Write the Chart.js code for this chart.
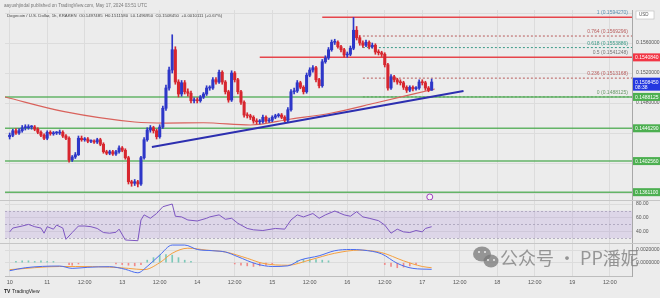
<!DOCTYPE html>
<html>
<head>
<meta charset="utf-8">
<script src="https://cdn.jsdelivr.net/npm/chart.js@4.4.0/dist/chart.umd.min.js"></script>
<style>
  html, body { margin: 0; padding: 0; background: #ececec; }
  #wrap { position: relative; width: 660px; height: 298px; }
</style>
</head>
<body>
<div id="wrap"><canvas id="dogeChart" width="660" height="298"></canvas></div>
<script>
// DOGE/USD 1h candles (index 0 = May 11 12:00, last = May 17 03:00)
const firstOpen = 0.1435;
const closes = [
  0.1437, 0.1443, 0.1440, 0.1443, 0.1447, 0.1447, 0.1448, 0.1448, 0.1445, 0.1441,
  0.1437, 0.1433, 0.1441, 0.1439, 0.1440, 0.1440, 0.1441, 0.1436, 0.1433, 0.1404,
  0.1408, 0.1411, 0.1433, 0.1431, 0.1432, 0.1429, 0.1429, 0.1428, 0.1431, 0.1425,
  0.1415, 0.1413, 0.1415, 0.1412, 0.1415, 0.1420, 0.1417, 0.1407, 0.1375, 0.1373,
  0.1375, 0.1372, 0.1407, 0.1431, 0.1444, 0.1447, 0.1443, 0.1435, 0.1448, 0.1473,
  0.1500, 0.1524, 0.1551, 0.1508, 0.1492, 0.1507, 0.1495, 0.1493, 0.1483, 0.1484,
  0.1483, 0.1488, 0.1492, 0.1500, 0.1500, 0.1511, 0.1508, 0.1521, 0.1508, 0.1495,
  0.1484, 0.1520, 0.1511, 0.1495, 0.1481, 0.1464, 0.1463, 0.1461, 0.1456, 0.1455,
  0.1455, 0.1461, 0.1456, 0.1457, 0.1461, 0.1463, 0.1464, 0.1461, 0.1457, 0.1471,
  0.1495, 0.1496, 0.1507, 0.1501, 0.1495, 0.1517, 0.1524, 0.1527, 0.1511, 0.1503,
  0.1535, 0.1540, 0.1551, 0.1561, 0.1561, 0.1555, 0.1551, 0.1544, 0.1545, 0.1553,
  0.1577, 0.1567, 0.1560, 0.1557, 0.1561, 0.1555, 0.1557, 0.1548, 0.1547, 0.1545,
  0.1531, 0.1500, 0.1515, 0.1511, 0.1508, 0.1507, 0.1501, 0.1497, 0.1501, 0.1499,
  0.1500, 0.1508, 0.1507, 0.1500, 0.1497, 0.1508
];
const highs = [
  0.1440, 0.1445, 0.1446, 0.1446, 0.1450, 0.1451, 0.1451, 0.1450, 0.1450, 0.1447,
  0.1443, 0.1439, 0.1443, 0.1443, 0.1442, 0.1442, 0.1444, 0.1443, 0.1438, 0.1435,
  0.1410, 0.1414, 0.1436, 0.1436, 0.1434, 0.1434, 0.1431, 0.1431, 0.1433, 0.1433,
  0.1427, 0.1417, 0.1417, 0.1417, 0.1417, 0.1423, 0.1422, 0.1419, 0.1409, 0.1377,
  0.1378, 0.1377, 0.1409, 0.1434, 0.1447, 0.1450, 0.1449, 0.1445, 0.1451, 0.1476,
  0.1504, 0.1528, 0.1571, 0.1555, 0.1511, 0.1510, 0.1510, 0.1499, 0.1496, 0.1487,
  0.1487, 0.1490, 0.1494, 0.1503, 0.1503, 0.1514, 0.1514, 0.1524, 0.1523, 0.1510,
  0.1497, 0.1523, 0.1522, 0.1513, 0.1497, 0.1483, 0.1467, 0.1465, 0.1463, 0.1459,
  0.1458, 0.1464, 0.1463, 0.1460, 0.1463, 0.1465, 0.1466, 0.1466, 0.1463, 0.1474,
  0.1498, 0.1500, 0.1510, 0.1509, 0.1503, 0.1520, 0.1527, 0.1530, 0.1529, 0.1513,
  0.1538, 0.1543, 0.1554, 0.1564, 0.1565, 0.1563, 0.1557, 0.1553, 0.1548, 0.1556,
  0.1594, 0.1582, 0.1570, 0.1563, 0.1564, 0.1563, 0.1560, 0.1559, 0.1551, 0.1549,
  0.1547, 0.1533, 0.1518, 0.1517, 0.1513, 0.1511, 0.1509, 0.1503, 0.1503, 0.1503,
  0.1502, 0.1511, 0.1511, 0.1509, 0.1502, 0.1512
];
const lows = [
  0.1432, 0.1435, 0.1438, 0.1438, 0.1441, 0.1444, 0.1445, 0.1445, 0.1443, 0.1439,
  0.1435, 0.1431, 0.1431, 0.1437, 0.1437, 0.1438, 0.1438, 0.1434, 0.1431, 0.1401,
  0.1402, 0.1406, 0.1410, 0.1429, 0.1429, 0.1427, 0.1427, 0.1426, 0.1426, 0.1423,
  0.1413, 0.1411, 0.1411, 0.1410, 0.1410, 0.1413, 0.1415, 0.1405, 0.1372, 0.1369,
  0.1370, 0.1368, 0.1370, 0.1405, 0.1429, 0.1441, 0.1440, 0.1432, 0.1433, 0.1446,
  0.1470, 0.1497, 0.1520, 0.1505, 0.1488, 0.1489, 0.1492, 0.1489, 0.1480, 0.1480,
  0.1480, 0.1481, 0.1486, 0.1490, 0.1497, 0.1498, 0.1505, 0.1506, 0.1505, 0.1492,
  0.1481, 0.1482, 0.1508, 0.1492, 0.1478, 0.1461, 0.1460, 0.1458, 0.1453, 0.1452,
  0.1452, 0.1453, 0.1454, 0.1454, 0.1455, 0.1459, 0.1461, 0.1459, 0.1455, 0.1455,
  0.1469, 0.1492, 0.1494, 0.1499, 0.1492, 0.1493, 0.1515, 0.1521, 0.1508, 0.1500,
  0.1501, 0.1533, 0.1538, 0.1549, 0.1558, 0.1553, 0.1548, 0.1541, 0.1541, 0.1543,
  0.1551, 0.1564, 0.1557, 0.1554, 0.1555, 0.1552, 0.1553, 0.1545, 0.1544, 0.1542,
  0.1528, 0.1497, 0.1498, 0.1508, 0.1505, 0.1504, 0.1498, 0.1494, 0.1495, 0.1496,
  0.1497, 0.1498, 0.1504, 0.1497, 0.1495, 0.1497
];
const opens = closes.map((c, i) => (i === 0 ? firstOpen : closes[i - 1]));

// red moving average, blue trend line
const maIdx = [-1.5, 17.5, 40, 50, 62, 77, 90, 103, 117, 136];
const maVal = [0.1488, 0.14684, 0.14547, 0.14533, 0.14537, 0.14507, 0.14587, 0.14667, 0.1480, 0.14987];
const trendIdx = [45.5, 145.2];
const trendVal = [0.14213, 0.1496];

// horizontal levels
const supportLevels = [0.1488125, 0.1446290, 0.1402560, 0.1361100];
const resistLevels = [0.1594270, 0.1540840];
const resistStart = [100, 80];
const fibNames = ['1', '0.764', '0.618', '0.5', '0.236', '0'];
const fibPrices = [0.1594270, 0.1569296, 0.1553886, 0.1541248, 0.1513168, 0.1488125];
const fibColors = ['#5a8fb0', '#b85c5c', '#3a9a86', '#777777', '#b85c5c', '#6a9a6a'];
const fibStart = 113;

// price axis
const priceTicks = [0.136, 0.138, 0.140, 0.142, 0.144, 0.146, 0.148, 0.150, 0.152, 0.154, 0.156, 0.158, 0.160];
const priceTickLbl = ['', '0.1380000', '', '0.1420000', '', '0.1460000', '0.1480000', '', '0.1520000', '', '0.1560000', '0.1580000', ''];
const lastPrice = 0.1508450;
const lastCountdown = '08:38';

// RSI (14)
const rsiIdx = [0, 1, 4, 6, 8, 10, 11, 12, 14, 15, 17, 18, 20, 22, 24, 26, 28, 30, 32, 34,
  35, 37, 41, 42, 43, 45, 47, 49, 52, 53, 55, 57, 60, 63, 64, 67, 69, 71, 73, 76,
  78, 81, 85, 88, 90, 92, 94, 97, 99, 101, 104, 107, 109, 111, 113, 115, 118, 120, 122, 124,
  126, 128, 130, 132, 133, 135];
const rsiVal = [39, 44.6, 47.6, 50, 46.6, 44.6, 37, 46.6, 43, 49, 44.6, 28, 38, 47.6, 47.6, 46.6, 44, 38, 37, 38.4,
  43, 27, 26, 56.5, 64, 59, 66, 76, 80, 62, 61, 56.5, 55, 59, 61, 64, 57.5, 59, 51.6, 44,
  42, 41, 44, 43, 56.5, 64, 61, 66, 59, 64, 69.7, 64, 62, 68.7, 61, 59, 55.5, 49, 37, 43,
  39, 38, 41, 39, 44, 46.6];
const rsiTicks = [40, 60, 80];
const rsiBand = [70, 50, 30];

// MACD (12, 26, 9)
const macdIdx = [0, 5, 16, 20, 25, 32, 37, 41, 44, 48, 52, 56, 60, 65, 69, 73, 79, 84, 89, 93, 99, 104, 109, 113, 119, 124, 129, 135];
const macdVal = [-0.00127, -0.0008, -0.00053, -0.0009, -0.00073, -0.00063, -0.00105, -0.0016, -0.0006, 0.0012,
  0.0028, 0.0028, 0.0021, 0.0019, 0.0017, 0.00095, -0.0002, -0.0006, -0.0005, 0.00043,
  0.0011, 0.0019, 0.0021, 0.002, 0.0014, -0.0001, -0.0009, -0.00105];
const signalIdx = [0, 16, 21, 32, 38, 43, 48, 52, 57, 63, 69, 76, 81, 89, 96, 104, 112, 119, 126, 132, 135];
const signalVal = [-0.0011, -0.0006, -0.0006, -0.0007, -0.0009, -0.0011, 0.0, 0.0015, 0.0023, 0.002,
  0.0017, 0.0007, -0.0001, -0.0004, 0.00043, 0.0015, 0.002, 0.0016, 0.0003, -0.0006, -0.0008];
const histIdx = [2, 4, 6, 8, 10, 12, 14, 19, 20, 22, 34, 36, 38, 40, 42, 44, 46, 48, 50, 52, 54, 56, 58,
  72, 74, 76, 78, 80, 82, 84, 92, 94, 96, 98, 100, 102, 120, 122, 124, 126, 128, 130];
const histVal = [0.0002, 0.0003, 0.0003, 0.0002, 0.0003, 0.0002, 0.0002, -0.0003, -0.0004, -0.0002,
  -0.0002, -0.0003, -0.0004, -0.0005, -0.0003, 0.0004, 0.0008, 0.0012, 0.0013, 0.0012, 0.0008, 0.0004, 0.0002,
  -0.0002, -0.0004, -0.0005, -0.0006, -0.0005, -0.0004, -0.0002, 0.0003, 0.0005, 0.0006, 0.0005, 0.0004, 0.0003,
  -0.0003, -0.0006, -0.0008, -0.0007, -0.0005, -0.0003];
const macdTicks = [0, 0.002];

// time axis
const timeTickIdx = [0, 12, 24, 36, 48, 60, 72, 84, 96, 108, 120, 132, 144, 156, 168, 180, 192];
const timeTickLbl = ['10', '11', '12:00', '13', '12:00', '14', '12:00', '15', '12:00', '16', '12:00', '17', '12:00', '18', '12:00', '19', '12:00'];

const BLUE = '#2e37c8';
const RED = '#d7262f';
const X_MIN = -1.5;
const X_MAX = 199.1;
const AXIS_FONT = { family: 'Liberation Sans', size: 5.5 };

const candleColor = (ctx) => (closes[ctx.dataIndex] >= opens[ctx.dataIndex] ? BLUE : RED);
const pts = (xs, ys) => xs.map((x, i) => ({ x: x, y: ys[i] }));
const hLine = (y, x0, color, width, dash) => ({
  type: 'line', yAxisID: 'y', data: [{ x: x0, y: y }, { x: X_MAX, y: y }],
  borderColor: color, borderWidth: width, borderDash: dash || [], pointRadius: 0, order: 5
});

const datasets = [
  {
    type: 'bar', label: 'wick', yAxisID: 'y', grouped: false, barThickness: 1, order: 3,
    data: closes.map((c, i) => ({ x: i, y: [lows[i], highs[i]] })),
    backgroundColor: candleColor
  },
  {
    type: 'bar', label: 'body', yAxisID: 'y', grouped: false, barThickness: 2.4, minBarLength: 1, order: 2,
    data: closes.map((c, i) => ({ x: i, y: [opens[i], c] })),
    backgroundColor: candleColor
  },
  {
    type: 'line', label: 'MA', yAxisID: 'y', data: pts(maIdx, maVal),
    borderColor: '#d9625c', borderWidth: 1.2, pointRadius: 0, cubicInterpolationMode: 'monotone', order: 4
  },
  {
    type: 'line', label: 'trend', yAxisID: 'y', data: pts(trendIdx, trendVal),
    borderColor: '#2d2fb0', borderWidth: 2, pointRadius: 0, order: 1
  },
  {
    type: 'line', label: 'event', yAxisID: 'y', data: [{ x: 134.4, y: 0.13547 }],
    showLine: false, pointRadius: 3, pointBorderWidth: 1, pointBorderColor: '#a040c0',
    pointBackgroundColor: 'rgba(255,255,255,0.5)', order: 1
  },
  {
    type: 'line', label: 'RSI', yAxisID: 'rsi', data: pts(rsiIdx, rsiVal),
    borderColor: '#7e57c2', borderWidth: 1, pointRadius: 0, order: 1
  },
  {
    type: 'bar', label: 'hist', yAxisID: 'macd', grouped: false, barThickness: 1, order: 3,
    data: pts(histIdx, histVal),
    backgroundColor: (ctx) => (histVal[ctx.dataIndex] >= 0 ? '#7cc8b8' : '#f08a8a')
  },
  {
    type: 'line', label: 'MACD', yAxisID: 'macd', data: pts(macdIdx, macdVal),
    borderColor: '#4a6cf0', borderWidth: 1, pointRadius: 0, cubicInterpolationMode: 'monotone', order: 1
  },
  {
    type: 'line', label: 'Signal', yAxisID: 'macd', data: pts(signalIdx, signalVal),
    borderColor: '#f5a040', borderWidth: 1, pointRadius: 0, cubicInterpolationMode: 'monotone', order: 1
  }
];

supportLevels.forEach(v => datasets.push(hLine(v, X_MIN, 'rgba(76,170,80,0.85)', 1.5)));
resistLevels.forEach((v, i) => datasets.push(hLine(v, resistStart[i], '#e6454b', 1.5)));
[1, 2, 4, 5].forEach(k => datasets.push(hLine(fibPrices[k], fibStart, fibColors[k], 1, [2, 2])));

function tag(ctx, y, text, bg, fg) {
  ctx.fillStyle = bg;
  ctx.fillRect(633, y - 4, 27, 8);
  ctx.fillStyle = fg;
  ctx.textAlign = 'left';
  ctx.textBaseline = 'middle';
  ctx.fillText(text, 635, y + 0.5);
}

const overlayPlugin = {
  id: 'tvOverlay',
  beforeDraw(chart) {
    const { ctx, width, height } = chart;
    ctx.save();
    ctx.fillStyle = '#ececec';
    ctx.fillRect(0, 0, width, height);
    ctx.restore();
  },
  beforeDatasetsDraw(chart) {
    const { ctx, chartArea, scales } = chart;
    const r = scales.rsi;
    const w = chartArea.right - chartArea.left;
    ctx.save();
    // RSI band
    const y70 = r.getPixelForValue(rsiBand[0]);
    const y30 = r.getPixelForValue(rsiBand[2]);
    ctx.fillStyle = 'rgba(140,100,210,0.16)';
    ctx.fillRect(chartArea.left, y70, w, y30 - y70);
    ctx.strokeStyle = '#a8a0b8';
    ctx.lineWidth = 0.8;
    ctx.setLineDash([2, 2]);
    rsiBand.forEach(v => {
      const y = Math.round(r.getPixelForValue(v)) + 0.5;
      ctx.beginPath(); ctx.moveTo(chartArea.left, y); ctx.lineTo(chartArea.right, y); ctx.stroke();
    });
    ctx.setLineDash([]);
    // pane separators
    ctx.strokeStyle = '#c6c6c6';
    ctx.lineWidth = 1;
    [scales.y.bottom, scales.rsi.bottom].forEach(b => {
      const y = Math.round(b) + 0.5;
      ctx.beginPath(); ctx.moveTo(0, y); ctx.lineTo(660, y); ctx.stroke();
    });
    ctx.restore();
  },
  afterDraw(chart) {
    const { ctx, scales } = chart;
    const ys = scales.y;
    ctx.save();
    // fib labels
    ctx.font = '5px "Liberation Sans"';
    ctx.textAlign = 'right';
    ctx.textBaseline = 'alphabetic';
    fibNames.forEach((n, k) => {
      ctx.fillStyle = fibColors[k];
      ctx.fillText(n + ' (' + fibPrices[k].toFixed(7) + ')', 628, ys.getPixelForValue(fibPrices[k]) - 3);
    });
    // price tags on the axis
    ctx.font = '5px "Liberation Sans"';
    tag(ctx, ys.getPixelForValue(resistLevels[1]), resistLevels[1].toFixed(7), '#f23645', '#ffffff');
    supportLevels.forEach(v => tag(ctx, ys.getPixelForValue(v), v.toFixed(7), '#4caf50', '#ffffff'));
    const yl = ys.getPixelForValue(lastPrice);
    ctx.fillStyle = '#2438e0';
    ctx.fillRect(633, yl - 4, 27, 13);
    ctx.fillStyle = '#ffffff';
    ctx.textAlign = 'left';
    ctx.textBaseline = 'middle';
    ctx.fillText(lastPrice.toFixed(7), 635, yl + 0.5);
    ctx.fillText(lastCountdown, 635, yl + 6);
    // USD box
    ctx.fillStyle = '#ffffff';
    ctx.strokeStyle = '#bbbbbb';
    ctx.lineWidth = 0.6;
    ctx.fillRect(636, 11, 18, 8);
    ctx.strokeRect(636, 11, 18, 8);
    ctx.fillStyle = '#555555';
    ctx.font = '4.5px "Liberation Sans"';
    ctx.fillText('USD', 639, 15.2);
    // header
    ctx.textBaseline = 'alphabetic';
    ctx.fillStyle = '#777777';
    ctx.font = '4.6px "Liberation Sans"';
    ctx.fillText('aayushjindal published on TradingView.com, May 17, 2024 03:51 UTC', 4, 7);
    ctx.fillStyle = '#444444';
    ctx.font = '4.3px "Liberation Sans"';
    ctx.fillText('Dogecoin / U.S. Dollar, 1h, KRAKEN  O0.1497485  H0.1511580  L0.1496950  C0.1508450  +0.0010111 (+0.67%)', 7, 17);
    // TradingView logo
    ctx.fillStyle = '#222222';
    ctx.font = 'bold 5px "Liberation Sans"';
    ctx.fillText('TV', 4, 293);
    ctx.font = '5px "Liberation Sans"';
    ctx.fillText('TradingView', 12, 293);
    // watermark
    const wy = 258;
    ctx.fillStyle = 'rgba(120,120,120,0.75)';
    ctx.beginPath(); ctx.ellipse(482, wy - 4, 9, 7.5, 0, 0, Math.PI * 2); ctx.fill();
    ctx.beginPath(); ctx.ellipse(491, wy + 3, 7.5, 6.5, 0, 0, Math.PI * 2); ctx.fill();
    ctx.fillStyle = '#ececec';
    [[479, wy - 6], [485, wy - 6], [488, wy + 2], [494, wy + 2]].forEach(p => {
      ctx.beginPath(); ctx.arc(p[0], p[1], 1, 0, Math.PI * 2); ctx.fill();
    });
    ctx.fillStyle = 'rgba(120,120,120,0.75)';
    ctx.font = '18px "Noto Sans CJK SC"';
    ctx.textBaseline = 'middle';
    ctx.fillText('公众号 · PP潘妮', 500, wy);
    ctx.restore();
  }
};

new Chart(document.getElementById('dogeChart'), {
  type: 'bar',
  data: { datasets: datasets },
  plugins: [overlayPlugin],
  options: {
    responsive: false,
    animation: false,
    devicePixelRatio: 1,
    layout: { padding: { top: 10, left: 0, right: 0, bottom: 0 } },
    plugins: { legend: { display: false }, tooltip: { enabled: false } },
    scales: {
      x: {
        type: 'linear', min: X_MIN, max: X_MAX, offset: false, position: 'bottom',
        grid: { color: '#dcdcdc', drawTicks: false, offset: false },
        border: { color: '#bdbdbd' },
        afterBuildTicks: s => { s.ticks = timeTickIdx.map(v => ({ value: v })); },
        afterFit: s => { s.height = 22; },
        ticks: {
          font: AXIS_FONT, color: '#555555', padding: 3, maxRotation: 0, autoSkip: false,
          callback: (v, i) => timeTickLbl[i]
        }
      },
      y: {
        position: 'right', stack: 'panes', stackWeight: 190, min: 0.135067, max: 0.1604,
        grid: { color: '#dcdcdc', drawTicks: false },
        border: { color: '#a8a8a8' },
        afterBuildTicks: s => { s.ticks = priceTicks.map(v => ({ value: v })); },
        afterFit: s => { s.width = 28; },
        ticks: { font: { family: 'Liberation Sans', size: 5 }, color: '#555555', padding: 4, callback: (v, i) => priceTickLbl[i] }
      },
      rsi: {
        position: 'right', stack: 'panes', stackWeight: 43, min: 22.6, max: 85.9,
        grid: { color: '#dcdcdc', drawTicks: false },
        border: { color: '#a8a8a8' },
        afterBuildTicks: s => { s.ticks = rsiTicks.map(v => ({ value: v })); },
        afterFit: s => { s.width = 28; },
        ticks: { font: { family: 'Liberation Sans', size: 5 }, color: '#555555', padding: 4, callback: v => v.toFixed(2) }
      },
      macd: {
        position: 'right', stack: 'panes', stackWeight: 33, min: -0.00211, max: 0.003127,
        grid: { color: '#dcdcdc', drawTicks: false },
        border: { color: '#a8a8a8' },
        afterBuildTicks: s => { s.ticks = macdTicks.map(v => ({ value: v })); },
        afterFit: s => { s.width = 28; },
        ticks: { font: { family: 'Liberation Sans', size: 5 }, color: '#555555', padding: 4, callback: v => v.toFixed(7) }
      }
    }
  }
});
</script>
</body>
</html>
